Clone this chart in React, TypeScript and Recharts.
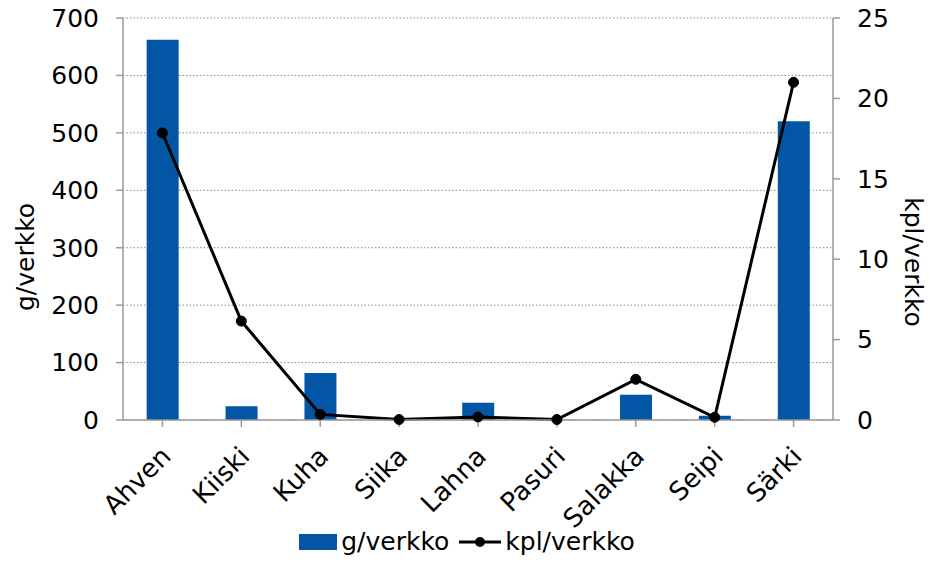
import { ComposedChart, Bar, Line, XAxis, YAxis, CartesianGrid, Legend } from 'recharts'

const species = ['Ahven', 'Kiiski', 'Kuha', 'Siika', 'Lahna', 'Pasuri', 'Salakka', 'Seipi', 'Särki']
const gramsPerNet = [662, 24, 82, 0, 30, 0.5, 44, 7.5, 520]
const countPerNet = [17.85, 6.15, 0.35, 0.03, 0.19, 0.03, 2.53, 0.17, 21.0]
const leftTicks = [0, 100, 200, 300, 400, 500, 600, 700]
const rightTicks = [0, 5, 10, 15, 20, 25]

const data = species.map((name, i) => ({
  name,
  g: gramsPerNet[i],
  kpl: countPerNet[i],
}))

const FONT = '"DejaVu Sans", sans-serif'
const BLUE = '#0256A5'
const AXIS = '#9a9a9a'

function XTick({ x, y, payload }: any) {
  return (
    <text
      transform={`translate(${x - 3}, ${y + 16}) rotate(-45)`}
      textAnchor="end"
      dy="0.7em"
      fontSize={26}
      fontFamily={FONT}
      fill="#000"
    >
      {payload.value}
    </text>
  )
}

function LeftTitle({ viewBox }: any) {
  const cx = viewBox.x + 25
  const cy = viewBox.y + viewBox.height / 2 + 38
  return (
    <text x={cx} y={cy} transform={`rotate(-90, ${cx}, ${cy})`} textAnchor="middle" dominantBaseline="central" fontSize={25} fontFamily={FONT}>
      g/verkko
    </text>
  )
}

function RightTitle({ viewBox }: any) {
  const cx = viewBox.x + viewBox.width - 17
  const cy = viewBox.y + viewBox.height / 2 + 43
  return (
    <text x={cx} y={cy} transform={`rotate(90, ${cx}, ${cy})`} textAnchor="middle" dominantBaseline="central" fontSize={25} fontFamily={FONT}>
      kpl/verkko
    </text>
  )
}

function LegendBox() {
  return (
    <div style={{ display: 'flex', justifyContent: 'center', alignItems: 'center', fontFamily: FONT, fontSize: 25, color: '#000', paddingLeft: 4 }}>
      <svg width={38} height={16} style={{ marginRight: 4 }}>
        <rect x={0} y={0} width={38} height={16} fill={BLUE} />
      </svg>
      <span>g/verkko</span>
      <svg width={42} height={14} style={{ marginLeft: 10, marginRight: 4 }}>
        <line x1={0} y1={7} x2={42} y2={7} stroke="#000" strokeWidth={3} />
        <circle cx={21} cy={7} r={5} fill="#000" />
      </svg>
      <span>kpl/verkko</span>
    </div>
  )
}

export default function App() {
  return (
    <div style={{ position: 'absolute', left: 0, top: 0, width: 930, height: 567, background: '#fff' }}>
      <ComposedChart width={930} height={567} data={data} margin={{ top: 18, right: 0, bottom: 0, left: 0 }} barCategoryGap="30%">
        <CartesianGrid yAxisId="left" vertical={false} stroke="#8c8c8c" strokeDasharray="1.5 2" />
        <XAxis
          dataKey="name"
          height={107}
          interval={0}
          tick={<XTick />}
          stroke={AXIS}
          strokeWidth={1.5}
          tickSize={7}
        />
        <YAxis
          yAxisId="left"
          width={123}
          domain={[0, 700]}
          ticks={leftTicks}
          stroke={AXIS}
          strokeWidth={1.5}
          tickSize={7}
          tick={{ fontSize: 25, fontFamily: FONT, fill: '#000' }}
          tickMargin={17}
          label={<LeftTitle />}
        />
        <YAxis
          yAxisId="right"
          orientation="right"
          width={97}
          domain={[0, 25]}
          ticks={rightTicks}
          stroke={AXIS}
          strokeWidth={1.5}
          tickSize={7}
          tick={{ fontSize: 25, fontFamily: FONT, fill: '#000' }}
          tickMargin={17}
          label={<RightTitle />}
        />
        <Bar yAxisId="left" dataKey="g" name="g/verkko" fill={BLUE} isAnimationActive={false} />
        <Line
          yAxisId="right"
          dataKey="kpl"
          name="kpl/verkko"
          stroke="#000"
          strokeWidth={3}
          dot={{ r: 5, fill: '#000', stroke: '#000', strokeWidth: 1 }}
          activeDot={false}
          isAnimationActive={false}
        />
        <Legend verticalAlign="bottom" height={40} content={<LegendBox />} />
      </ComposedChart>
    </div>
  )
}
